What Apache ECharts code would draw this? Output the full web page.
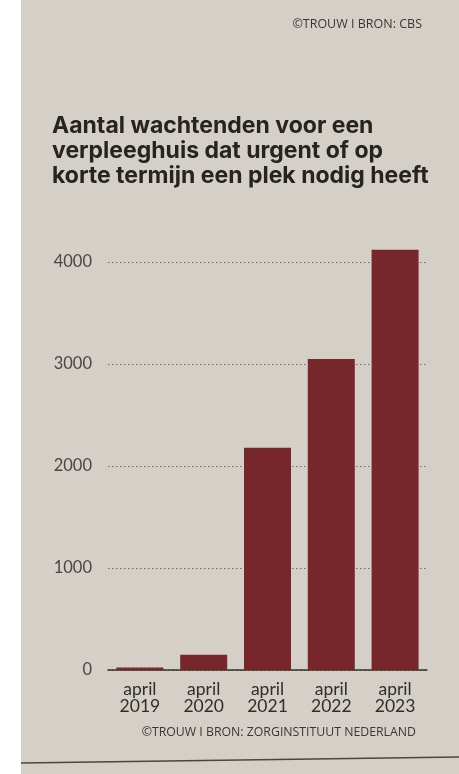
<!DOCTYPE html>
<html>
<head>
<meta charset="utf-8">
<script src="https://cdn.jsdelivr.net/npm/echarts@6/dist/echarts.min.js"></script>
<style>
  html, body { margin: 0; padding: 0; background: #ffffff; }
  #chart { width: 459px; height: 774px; }
</style>
</head>
<body>
<div id="chart"></div>
<script>
// Wachtenden voor een verpleeghuis (urgent of korte termijn), stand per april
const categories = ['april\n2019', 'april\n2020', 'april\n2021', 'april\n2022', 'april\n2023'];
const waiting = [25, 150, 2180, 3050, 4120];
const yTicks = [0, 1000, 2000, 3000, 4000];

const titleText = 'Aantal wachtenden voor een\nverpleeghuis dat urgent of op\nkorte termijn een plek nodig heeft';
const sourceTop = '©TROUW I BRON: CBS';
const sourceBottom = '©TROUW I BRON: ZORGINSTITUUT NEDERLAND';

const paper = '#d4cfc7';
const ink = '#262321';
const barColor = '#772729';

const chart = echarts.init(document.getElementById('chart'), null, { renderer: 'canvas' });

chart.setOption({
  backgroundColor: '#ffffff',
  animation: false,
  graphic: [
    { type: 'rect', z: -10, silent: true,
      shape: { x: 21, y: 0, width: 438, height: 774 },
      style: { fill: paper } },
    { type: 'line', z: 5, silent: true,
      shape: { x1: 21, y1: 763, x2: 459, y2: 757 },
      style: { stroke: '#4a4540', lineWidth: 1.5 } },
    { type: 'text', z: 5, silent: true, right: 37, top: 18,
      style: { text: sourceTop, fill: '#3a3634', font: '500 12.5px "Open Sans", sans-serif' } },
    { type: 'text', z: 5, silent: true, right: 43, top: 726,
      style: { text: sourceBottom, fill: '#3a3634', font: '500 12.3px "Open Sans", sans-serif' } }
  ],
  title: {
    text: titleText,
    left: 47,
    top: 109,
    textStyle: {
      fontFamily: 'Inter, sans-serif',
      fontWeight: 'bold',
      fontSize: 23,
      lineHeight: 25,
      color: ink
    }
  },
  grid: { left: 108, right: 32, top: 262, bottom: 104, containLabel: false },
  xAxis: {
    type: 'category',
    data: categories,
    axisLine: { show: true, lineStyle: { color: '#353230', width: 1.5 } },
    axisTick: { show: false },
    axisLabel: {
      margin: 11,
      fontFamily: 'Lato, sans-serif',
      fontSize: 17.5,
      lineHeight: 17,
      color: '#302d2b'
    }
  },
  yAxis: {
    type: 'value',
    min: 0,
    max: 4000,
    interval: 1000,
    axisLine: { show: false },
    axisTick: { show: false },
    axisLabel: {
      margin: 16,
      fontFamily: 'Lato, sans-serif',
      fontSize: 16.5,
      color: '#4a4644',
      customValues: yTicks,
      formatter: (v) => String(v)
    },
    splitLine: {
      show: true,
      lineStyle: { color: '#6f6963', type: [1.5, 2.5], width: 1.2 }
    }
  },
  series: [{
    type: 'bar',
    data: waiting,
    barWidth: 47,
    clip: false,
    itemStyle: { color: barColor }
  }]
});
</script>
</body>
</html>
